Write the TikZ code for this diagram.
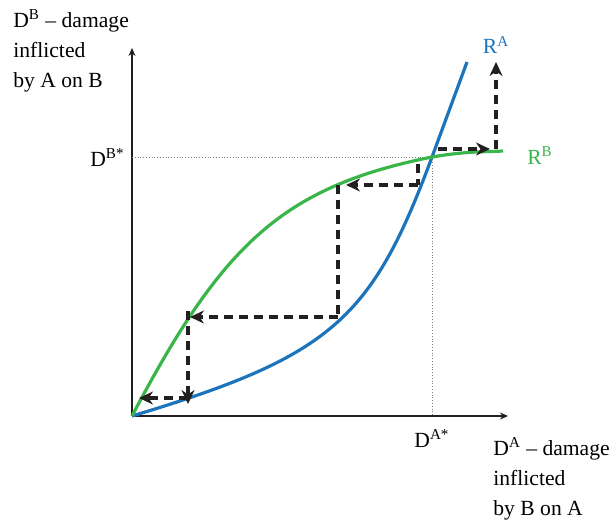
\documentclass[tikz,border=0pt]{standalone}
\usepackage{fontspec}
\setmainfont{Liberation Serif}
\usetikzlibrary{positioning}
\usetikzlibrary{arrows.meta}

\definecolor{rablue}{RGB}{28,117,188}
\definecolor{rbgreen}{RGB}{57,181,74}
\definecolor{inkdark}{RGB}{35,31,32}

\begin{document}
\begin{tikzpicture}[x=0.5pt, y=-0.5pt, >={Stealth[length=7pt,width=6.5pt]}, font=\fontsize{10.8}{15}\selectfont,
        axis/.style={line width=1pt, draw=inkdark, -{Stealth[length=4pt,width=3.5pt]}},
        guide/.style={gray, densely dotted, line width=0.4pt},
        stairs/.style={line width=1.6pt, draw=inkdark, dash pattern=on 4.5pt off 3pt},
        curve/.style={line width=1.6pt}]
        \useasboundingbox (0,0) rectangle (613,525);

        % Axes
        \coordinate (O) at (132,416);
        \coordinate (ytop) at (132,48);
        \coordinate (xend) at (508,416);
        \draw[axis] (O) -- (ytop);
        \draw[axis] (O) -- (xend);
        \node[align=left, anchor=north west, inner sep=0] (ylab) at (13,9) {D\textsuperscript{B} -- damage\\inflicted\\by A on B};
        \node[align=left, anchor=north west, inner sep=0] (xlab) at (493,437) {D\textsuperscript{A} -- damage\\inflicted\\by B on A};

        % Equilibrium
        \coordinate (eq) at (432,157);
        \draw[guide] (O |- eq) -- (eq) -- (eq |- O);
        \node[anchor=base east, inner sep=0] (dbstar) at (125,166) {D\textsuperscript{B*}};
        \node[anchor=base, inner sep=0] (dastar) at (432,447) {D\textsuperscript{A*}};

        % Reaction curves
        \draw[curve, rablue] (O) .. controls (332,356) and (372,319) .. (eq) -- (467,62);
        \draw[curve, rbgreen] (O) .. controls (222,245) and (282,187) .. (eq) .. controls (467,151) and (485,152) .. (503,151);
        \node[rablue, inner sep=0] (ra) at (496,45) {R\textsuperscript{A}};
        \node[rbgreen, inner sep=0] (rb) at (540,156) {R\textsuperscript{B}};

        % Staircase towards the origin
        \coordinate (s1) at (418,164);
        \coordinate (s2) at (418,185);
        \coordinate (s3) at (338,185);
        \coordinate (s4) at (338,317);
        \coordinate (s5) at (188,317);
        \coordinate (s6) at (188,398);
        \coordinate (s7) at (139,398);
        \draw[stairs] (s1) -- (s2);
        \draw[stairs, ->] (s2) -- ([xshift=4]s3);
        \draw[stairs] (s3) -- (s4);
        \draw[stairs, ->] (s4) -- ([xshift=1]s5);
        \draw[stairs, ->] ([yshift=3]s5) -- ([yshift=-3]s6);
        \draw[stairs, ->] (s6) -- (s7);

        % Staircase away from the equilibrium
        \coordinate (u1) at (438,149);
        \coordinate (u2) at (496,149);
        \coordinate (u3) at (496,62);
        \draw[stairs, ->] (u1) -- ([xshift=-3]u2);
        \draw[stairs, ->] (u2) -- (u3);
    \end{tikzpicture}
\end{document}
